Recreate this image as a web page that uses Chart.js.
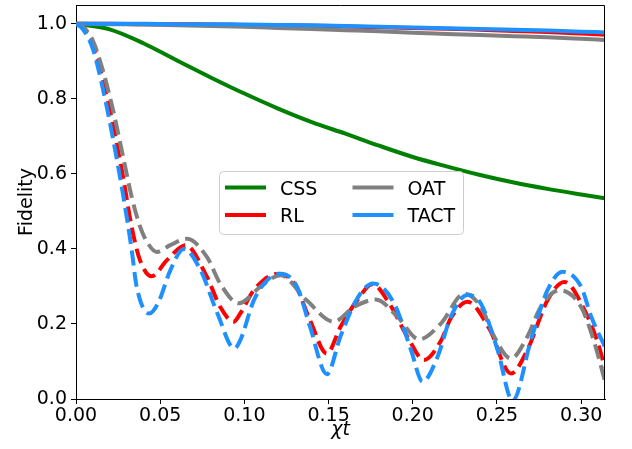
<!DOCTYPE html>
<html>
<head>
<meta charset="utf-8">
<script src="https://cdn.jsdelivr.net/npm/chart.js@4.4.1/dist/chart.umd.min.js"></script>
<style>
  body { margin: 0; background: #fff; }
  #wrap { width: 632px; height: 449px; }
</style>
</head>
<body>
<div id="wrap"><canvas id="fid" width="632" height="449"></canvas></div>
<script>
// axis ticks
const xTicks = [0, 0.05, 0.10, 0.15, 0.20, 0.25, 0.30];
const yTicks = [0, 0.2, 0.4, 0.6, 0.8, 1.0];
const xMax = Math.PI / 10;
const yMax = 1.05;

// solid curves (no noise)
const solidX = [0, 0.02, 0.04, 0.06, 0.08, 0.10, 0.12, 0.14, 0.16, 0.18, 0.20, 0.22, 0.24, 0.26, 0.28, 0.30, 0.314];
const cssSolid = [1.000, 0.985, 0.948, 0.902, 0.857, 0.814, 0.774, 0.738, 0.707, 0.675, 0.645, 0.620, 0.597, 0.577, 0.560, 0.545, 0.535];
const rlSolid = [1.000, 1.000, 0.999, 0.999, 0.998, 0.997, 0.996, 0.995, 0.993, 0.991, 0.989, 0.987, 0.984, 0.981, 0.978, 0.974, 0.971];
const oatSolid = [1.000, 0.999, 0.998, 0.996, 0.994, 0.992, 0.989, 0.986, 0.983, 0.980, 0.976, 0.973, 0.970, 0.967, 0.964, 0.960, 0.957];
const tactSolid = [1.000, 1.000, 1.000, 0.999, 0.999, 0.998, 0.997, 0.996, 0.994, 0.992, 0.990, 0.988, 0.986, 0.984, 0.982, 0.979, 0.977];

// dashed curves
const rlDashX = [0, 0.004, 0.010, 0.016, 0.022, 0.028, 0.033, 0.038, 0.045, 0.054, 0.065, 0.0778, 0.0857, 0.0936, 0.0976, 0.1056, 0.120, 0.130, 0.139, 0.149, 0.157, 0.167, 0.176, 0.186, 0.1968, 0.2067, 0.2167, 0.2226, 0.2325, 0.2454, 0.2583, 0.268, 0.280, 0.290, 0.302, 0.310, 0.314];
const rlDash = [1.000, 0.990, 0.945, 0.850, 0.730, 0.590, 0.460, 0.370, 0.327, 0.370, 0.410, 0.325, 0.245, 0.206, 0.228, 0.290, 0.334, 0.305, 0.210, 0.121, 0.192, 0.263, 0.306, 0.255, 0.166, 0.104, 0.155, 0.215, 0.259, 0.188, 0.068, 0.130, 0.263, 0.312, 0.237, 0.148, 0.085];

const oatDashX = [0, 0.004, 0.010, 0.016, 0.022, 0.028, 0.033, 0.038, 0.042, 0.048, 0.056, 0.0659, 0.0778, 0.0857, 0.0966, 0.1095, 0.1214, 0.137, 0.153, 0.165, 0.178, 0.191, 0.2038, 0.2167, 0.2306, 0.2405, 0.2484, 0.2583, 0.268, 0.276, 0.287, 0.300, 0.308, 0.314];
const oatDash = [1.000, 0.993, 0.955, 0.875, 0.770, 0.645, 0.540, 0.460, 0.420, 0.392, 0.410, 0.427, 0.378, 0.307, 0.255, 0.299, 0.330, 0.263, 0.206, 0.245, 0.265, 0.219, 0.159, 0.201, 0.281, 0.245, 0.166, 0.108, 0.166, 0.245, 0.290, 0.245, 0.148, 0.050];

const tactDashX = [0, 0.004, 0.010, 0.016, 0.022, 0.028, 0.033, 0.036, 0.0435, 0.049, 0.056, 0.064, 0.074, 0.084, 0.094, 0.0976, 0.1056, 0.1135, 0.1214, 0.1313, 0.139, 0.149, 0.157, 0.167, 0.1765, 0.189, 0.199, 0.2058, 0.2147, 0.2226, 0.2325, 0.2405, 0.2504, 0.2593, 0.2702, 0.280, 0.289, 0.300, 0.306, 0.314];
const tactDash = [1.000, 0.986, 0.933, 0.826, 0.693, 0.543, 0.400, 0.300, 0.228, 0.258, 0.343, 0.400, 0.343, 0.228, 0.135, 0.157, 0.263, 0.316, 0.334, 0.299, 0.192, 0.066, 0.166, 0.268, 0.308, 0.254, 0.130, 0.046, 0.1125, 0.219, 0.277, 0.254, 0.130, -0.005, 0.157, 0.290, 0.339, 0.299, 0.219, 0.140];

const legendOrder = ['CSS', 'RL', 'OAT', 'TACT'];

const fontFam = '"DejaVu Sans", sans-serif';
const green = '#008000', red = '#ff0000', gray = '#808080', blue = '#1e90ff';

function pts(xs, ys) {
  return xs.map((x, i) => ({ x: x, y: ys[i] }));
}

function curve(label, color, xs, ys, dashed, order) {
  return {
    label: label,
    data: pts(xs, ys),
    borderColor: color,
    backgroundColor: color,
    borderWidth: 4,
    borderDash: dashed ? [15, 6.5] : [],
    pointRadius: 0,
    cubicInterpolationMode: 'monotone',
    fill: false,
    clip: 0,
    order: order,
    inLegend: !dashed
  };
}

// top + right spines
const frame = {
  id: 'frame',
  afterDatasetsDraw(chart) {
    const { ctx, chartArea: a } = chart;
    ctx.save();
    ctx.strokeStyle = '#000';
    ctx.lineWidth = 1;
    ctx.beginPath();
    ctx.moveTo(a.left, a.top + 0.5);
    ctx.lineTo(a.right - 0.5, a.top + 0.5);
    ctx.lineTo(a.right - 0.5, a.bottom);
    ctx.stroke();
    ctx.restore();
  }
};

// matplotlib style legend, two columns, centred in the axes
const boxLegend = {
  id: 'boxLegend',
  afterDraw(chart) {
    const { ctx, chartArea: a } = chart;
    const w = 244, h = 63;
    const bx = Math.round((a.left + a.right) / 2 - w / 2);
    const by = Math.round((a.top + a.bottom) / 2 - h / 2);
    ctx.save();
    ctx.fillStyle = 'rgba(255,255,255,0.8)';
    ctx.strokeStyle = '#cccccc';
    ctx.lineWidth = 1;
    ctx.beginPath();
    ctx.roundRect(bx + 0.5, by + 0.5, w, h, 4);
    ctx.fill();
    ctx.stroke();
    ctx.font = '19px ' + fontFam;
    ctx.textBaseline = 'alphabetic';
    ctx.fillStyle = '#000';
    legendOrder.forEach((name, k) => {
      const ds = chart.data.datasets.find(d => d.label === name && d.inLegend);
      const col = Math.floor(k / 2), row = k % 2;
      const hx = bx + 6 + col * 127.5;
      const ty = by + 16.5 + row * 27.5;
      ctx.strokeStyle = ds.borderColor;
      ctx.lineWidth = 4;
      ctx.beginPath();
      ctx.moveTo(hx, ty);
      ctx.lineTo(hx + 41, ty);
      ctx.stroke();
      ctx.fillText(name, hx + 55, ty + 7);
    });
    ctx.restore();
  }
};

new Chart(document.getElementById('fid'), {
  type: 'line',
  data: {
    datasets: [
      curve('TACT', blue, tactDashX, tactDash, true, 0),
      curve('OAT', gray, oatDashX, oatDash, true, 1),
      curve('RL', red, rlDashX, rlDash, true, 2),
      curve('TACT', blue, solidX, tactSolid, false, 3),
      curve('OAT', gray, solidX, oatSolid, false, 4),
      curve('RL', red, solidX, rlSolid, false, 5),
      curve('CSS', green, solidX, cssSolid, false, 6)
    ]
  },
  options: {
    responsive: false,
    animation: false,
    devicePixelRatio: 1,
    layout: { padding: { left: 0, right: 27, top: 5, bottom: 0 } },
    plugins: {
      legend: { display: false },
      tooltip: { enabled: false }
    },
    scales: {
      x: {
        type: 'linear',
        min: 0,
        max: xMax,
        afterBuildTicks: s => { s.ticks = xTicks.map(v => ({ value: v })); },
        afterFit: s => { s.height = 50; s.paddingLeft = 0; s.paddingRight = 0; },
        ticks: {
          font: { family: fontFam, size: 19 },
          color: '#000',
          padding: 1,
          maxRotation: 0,
          autoSkip: false,
          callback: v => v.toFixed(2)
        },
        grid: { drawOnChartArea: false, tickLength: 5, tickColor: '#000' },
        border: { color: '#000', width: 1 },
        title: {
          display: true,
          text: 'χt',
          color: '#000',
          font: { family: fontFam, size: 19, style: 'italic' },
          padding: { top: 0, bottom: 8 }
        }
      },
      y: {
        type: 'linear',
        min: 0,
        max: yMax,
        afterBuildTicks: s => { s.ticks = yTicks.map(v => ({ value: v })); },
        afterFit: s => { s.width = 76; s.paddingTop = 0; s.paddingBottom = 0; },
        ticks: {
          font: { family: fontFam, size: 19 },
          color: '#000',
          padding: 4,
          callback: v => v.toFixed(1)
        },
        grid: { drawOnChartArea: false, tickLength: 5, tickColor: '#000' },
        border: { color: '#000', width: 1 },
        title: {
          display: true,
          text: 'Fidelity',
          color: '#000',
          font: { family: fontFam, size: 19 },
          padding: { top: 16, bottom: 0 }
        }
      }
    }
  },
  plugins: [frame, boxLegend]
});
</script>
</body>
</html>
